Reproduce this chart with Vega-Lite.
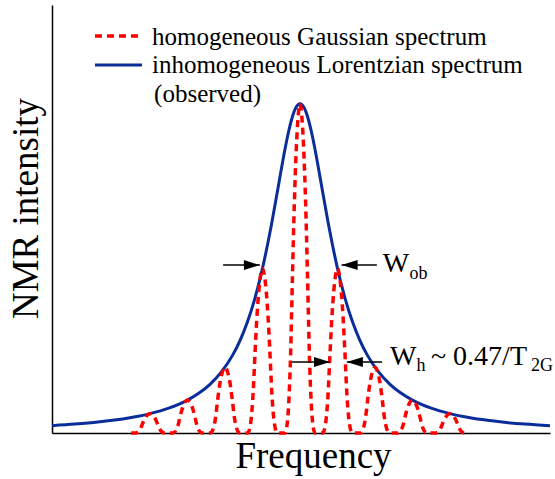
{
  "$schema": "https://vega.github.io/schema/vega-lite/v6.json",
  "width": 498,
  "height": 428,
  "autosize": {"type": "none"},
  "padding": {"left": 52, "top": 5, "right": 5, "bottom": 46},
  "background": "white",
  "config": {"view": {"stroke": null}, "font": "Liberation Serif"},
  "datasets": {
    "lor": [
      {"x": -66.13, "y": 2.236}, {"x": -60, "y": 2.703}, {"x": -55, "y": 3.2}, {"x": -50, "y": 3.846},
      {"x": -45, "y": 4.706}, {"x": -40, "y": 5.882}, {"x": -35, "y": 7.547}, {"x": -30, "y": 10},
      {"x": -27, "y": 12.06}, {"x": -24, "y": 14.79}, {"x": -21, "y": 18.48}, {"x": -18, "y": 23.58},
      {"x": -16, "y": 28.09}, {"x": -14, "y": 33.78}, {"x": -12, "y": 40.98}, {"x": -10, "y": 50},
      {"x": -8, "y": 60.98}, {"x": -6, "y": 73.53}, {"x": -4, "y": 86.21}, {"x": -3, "y": 91.74},
      {"x": -2, "y": 96.15}, {"x": -1, "y": 99.01}, {"x": 0, "y": 100}, {"x": 1, "y": 99.01},
      {"x": 2, "y": 96.15}, {"x": 3, "y": 91.74}, {"x": 4, "y": 86.21}, {"x": 6, "y": 73.53},
      {"x": 8, "y": 60.98}, {"x": 10, "y": 50}, {"x": 12, "y": 40.98}, {"x": 14, "y": 33.78},
      {"x": 16, "y": 28.09}, {"x": 18, "y": 23.58}, {"x": 21, "y": 18.48}, {"x": 24, "y": 14.79},
      {"x": 27, "y": 12.06}, {"x": 30, "y": 10}, {"x": 35, "y": 7.547}, {"x": 40, "y": 5.882},
      {"x": 45, "y": 4.706}, {"x": 50, "y": 3.846}, {"x": 55, "y": 3.2}, {"x": 60, "y": 2.703},
      {"x": 66.67, "y": 2.2}
    ],
    "gau": [
      {"x": -45, "y": 0},
      {"x": -44, "y": 0}, {"x": -43.5, "y": 0.12}, {"x": -43, "y": 0.53}, {"x": -42.5, "y": 1.41}, {"x": -42, "y": 2.82}, {"x": -41.5, "y": 4.12}, {"x": -41, "y": 5.06}, {"x": -40.5, "y": 5.64}, {"x": -40, "y": 5.88}, {"x": -39.5, "y": 5.64}, {"x": -39, "y": 5.06}, {"x": -38.5, "y": 4.12}, {"x": -38, "y": 2.82}, {"x": -37.5, "y": 1.41}, {"x": -37, "y": 0.53}, {"x": -36.5, "y": 0.12}, {"x": -36, "y": 0}, {"x": -35, "y": 0},
      {"x": -34, "y": 0}, {"x": -33.5, "y": 0.2}, {"x": -33, "y": 0.9}, {"x": -32.5, "y": 2.4}, {"x": -32, "y": 4.8}, {"x": -31.5, "y": 7}, {"x": -31, "y": 8.6}, {"x": -30.5, "y": 9.6}, {"x": -30, "y": 10}, {"x": -29.5, "y": 9.6}, {"x": -29, "y": 8.6}, {"x": -28.5, "y": 7}, {"x": -28, "y": 4.8}, {"x": -27.5, "y": 2.4}, {"x": -27, "y": 0.9}, {"x": -26.5, "y": 0.2}, {"x": -26, "y": 0}, {"x": -25, "y": 0},
      {"x": -24, "y": 0}, {"x": -23.5, "y": 0.4}, {"x": -23, "y": 1.8}, {"x": -22.5, "y": 4.8}, {"x": -22, "y": 9.6}, {"x": -21.5, "y": 14}, {"x": -21, "y": 17.2}, {"x": -20.5, "y": 19.2}, {"x": -20, "y": 20}, {"x": -19.5, "y": 19.2}, {"x": -19, "y": 17.2}, {"x": -18.5, "y": 14}, {"x": -18, "y": 9.6}, {"x": -17.5, "y": 4.8}, {"x": -17, "y": 1.8}, {"x": -16.5, "y": 0.4}, {"x": -16, "y": 0}, {"x": -15, "y": 0},
      {"x": -14, "y": 0}, {"x": -13.5, "y": 1}, {"x": -13, "y": 4.5}, {"x": -12.5, "y": 12}, {"x": -12, "y": 24}, {"x": -11.5, "y": 35}, {"x": -11, "y": 43}, {"x": -10.5, "y": 48}, {"x": -10, "y": 50}, {"x": -9.5, "y": 48}, {"x": -9, "y": 43}, {"x": -8.5, "y": 35}, {"x": -8, "y": 24}, {"x": -7.5, "y": 12}, {"x": -7, "y": 4.5}, {"x": -6.5, "y": 1}, {"x": -6, "y": 0}, {"x": -5, "y": 0},
      {"x": -4, "y": 0}, {"x": -3.5, "y": 2}, {"x": -3, "y": 9}, {"x": -2.5, "y": 24}, {"x": -2, "y": 48}, {"x": -1.5, "y": 70}, {"x": -1, "y": 86}, {"x": -0.5, "y": 96}, {"x": 0, "y": 100}, {"x": 0.5, "y": 96}, {"x": 1, "y": 86}, {"x": 1.5, "y": 70}, {"x": 2, "y": 48}, {"x": 2.5, "y": 24}, {"x": 3, "y": 9}, {"x": 3.5, "y": 2}, {"x": 4, "y": 0}, {"x": 5, "y": 0},
      {"x": 6, "y": 0}, {"x": 6.5, "y": 1}, {"x": 7, "y": 4.5}, {"x": 7.5, "y": 12}, {"x": 8, "y": 24}, {"x": 8.5, "y": 35}, {"x": 9, "y": 43}, {"x": 9.5, "y": 48}, {"x": 10, "y": 50}, {"x": 10.5, "y": 48}, {"x": 11, "y": 43}, {"x": 11.5, "y": 35}, {"x": 12, "y": 24}, {"x": 12.5, "y": 12}, {"x": 13, "y": 4.5}, {"x": 13.5, "y": 1}, {"x": 14, "y": 0}, {"x": 15, "y": 0},
      {"x": 16, "y": 0}, {"x": 16.5, "y": 0.4}, {"x": 17, "y": 1.8}, {"x": 17.5, "y": 4.8}, {"x": 18, "y": 9.6}, {"x": 18.5, "y": 14}, {"x": 19, "y": 17.2}, {"x": 19.5, "y": 19.2}, {"x": 20, "y": 20}, {"x": 20.5, "y": 19.2}, {"x": 21, "y": 17.2}, {"x": 21.5, "y": 14}, {"x": 22, "y": 9.6}, {"x": 22.5, "y": 4.8}, {"x": 23, "y": 1.8}, {"x": 23.5, "y": 0.4}, {"x": 24, "y": 0}, {"x": 25, "y": 0},
      {"x": 26, "y": 0}, {"x": 26.5, "y": 0.2}, {"x": 27, "y": 0.9}, {"x": 27.5, "y": 2.4}, {"x": 28, "y": 4.8}, {"x": 28.5, "y": 7}, {"x": 29, "y": 8.6}, {"x": 29.5, "y": 9.6}, {"x": 30, "y": 10}, {"x": 30.5, "y": 9.6}, {"x": 31, "y": 8.6}, {"x": 31.5, "y": 7}, {"x": 32, "y": 4.8}, {"x": 32.5, "y": 2.4}, {"x": 33, "y": 0.9}, {"x": 33.5, "y": 0.2}, {"x": 34, "y": 0}, {"x": 35, "y": 0},
      {"x": 36, "y": 0}, {"x": 36.5, "y": 0.12}, {"x": 37, "y": 0.53}, {"x": 37.5, "y": 1.41}, {"x": 38, "y": 2.82}, {"x": 38.5, "y": 4.12}, {"x": 39, "y": 5.06}, {"x": 39.5, "y": 5.64}, {"x": 40, "y": 5.88}, {"x": 40.5, "y": 5.64}, {"x": 41, "y": 5.06}, {"x": 41.5, "y": 4.12}, {"x": 42, "y": 2.82}, {"x": 42.5, "y": 1.41}, {"x": 43, "y": 0.53}, {"x": 43.5, "y": 0.12}, {"x": 44, "y": 0}, {"x": 45, "y": 0}
    ],
    "legendG": [{"x": -54.67, "x2": -42.67, "y": 120.6}],
    "legendL": [{"x": -54.67, "x2": -42.13, "y": 111.8}],
    "legendText": [
      {"x": -39.47, "y": 117.86, "t": "homogeneous Gaussian spectrum"},
      {"x": -39.47, "y": 109.36, "t": "inhomogeneous Lorentzian spectrum"},
      {"x": -38.9, "y": 100.55, "t": "(observed)"}
    ],
    "arrows": [
      {"x": -10.7, "xt": -20.5, "y": 51, "dir": "right"},
      {"x": 11.1, "xt": 20.5, "y": 51, "dir": "left"},
      {"x": 8.0, "xt": -2.1, "y": 21.6, "dir": "right"},
      {"x": 12.5, "xt": 21.9, "y": 21.6, "dir": "left"}
    ],
    "annot": [
      {"x": 22.1, "y": 48.9, "t": "W"},
      {"x": 24.0, "y": 20.66, "t": "W"},
      {"x": 34.93, "y": 20.66, "t": "~ 0.47/T"}
    ],
    "annotSub": [
      {"x": 29.2, "y": 46.8, "t": "ob"},
      {"x": 31.1, "y": 18.8, "t": "h"},
      {"x": 61.6, "y": 18.8, "t": "2G"}
    ]
  },
  "encoding": {
    "x": {
      "field": "x", "type": "quantitative",
      "scale": {"domain": [-66.13, 66.67], "nice": false, "zero": false},
      "axis": {
        "domain": true, "domainColor": "black", "domainWidth": 1.5,
        "ticks": false, "labels": false, "grid": false,
        "title": "Frequency", "titleFont": "Liberation Serif", "titleFontSize": 37,
        "titleFontWeight": "normal", "titleColor": "black",
        "titleX": 261, "titleY": 34, "titleBaseline": "alphabetic", "titleAlign": "center"
      }
    },
    "y": {
      "field": "y", "type": "quantitative",
      "scale": {"domain": [0, 130], "nice": false},
      "axis": {
        "domain": true, "domainColor": "black", "domainWidth": 1.5,
        "ticks": false, "labels": false, "grid": false,
        "title": "NMR intensity", "titleFont": "Liberation Serif", "titleFontSize": 37,
        "titleFontWeight": "normal", "titleColor": "black", "titleAngle": -90,
        "titleX": -15, "titleY": 203, "titleBaseline": "alphabetic", "titleAlign": "center"
      }
    }
  },
  "layer": [
    {
      "data": {"name": "lor"},
      "mark": {"type": "line", "color": "#0b2d9a", "strokeWidth": 3, "interpolate": "monotone"},
      "encoding": {}
    },
    {
      "data": {"name": "gau"},
      "mark": {"type": "line", "color": "#ff0000", "strokeWidth": 3.5, "strokeDash": [7, 5], "interpolate": "monotone"},
      "encoding": {}
    },
    {
      "data": {"name": "legendG"},
      "mark": {"type": "rule", "color": "#ff0000", "strokeWidth": 3.5, "strokeDash": [7, 5]},
      "encoding": {"x2": {"field": "x2"}}
    },
    {
      "data": {"name": "legendL"},
      "mark": {"type": "rule", "color": "#0b2d9a", "strokeWidth": 3},
      "encoding": {"x2": {"field": "x2"}}
    },
    {
      "data": {"name": "legendText"},
      "mark": {"type": "text", "align": "left", "baseline": "alphabetic", "font": "Liberation Serif", "fontSize": 25, "color": "black"},
      "encoding": {"text": {"field": "t"}}
    },
    {
      "data": {"name": "arrows"},
      "mark": {"type": "rule", "color": "black", "strokeWidth": 1.5},
      "encoding": {"x2": {"field": "xt"}}
    },
    {
      "data": {"name": "arrows"},
      "transform": [{"filter": "datum.dir == 'right'"}],
      "mark": {"type": "point", "shape": "M0,0L-2,-0.625L-2,0.625Z", "filled": true, "color": "black", "opacity": 1, "size": 256},
      "encoding": {}
    },
    {
      "data": {"name": "arrows"},
      "transform": [{"filter": "datum.dir == 'left'"}],
      "mark": {"type": "point", "shape": "M0,0L2,-0.625L2,0.625Z", "filled": true, "color": "black", "opacity": 1, "size": 256},
      "encoding": {}
    },
    {
      "data": {"name": "annot"},
      "mark": {"type": "text", "align": "left", "baseline": "alphabetic", "font": "Liberation Serif", "fontSize": 28, "color": "black"},
      "encoding": {"text": {"field": "t"}}
    },
    {
      "data": {"name": "annotSub"},
      "mark": {"type": "text", "align": "left", "baseline": "alphabetic", "font": "Liberation Serif", "fontSize": 18, "color": "black"},
      "encoding": {"text": {"field": "t"}}
    }
  ]
}
